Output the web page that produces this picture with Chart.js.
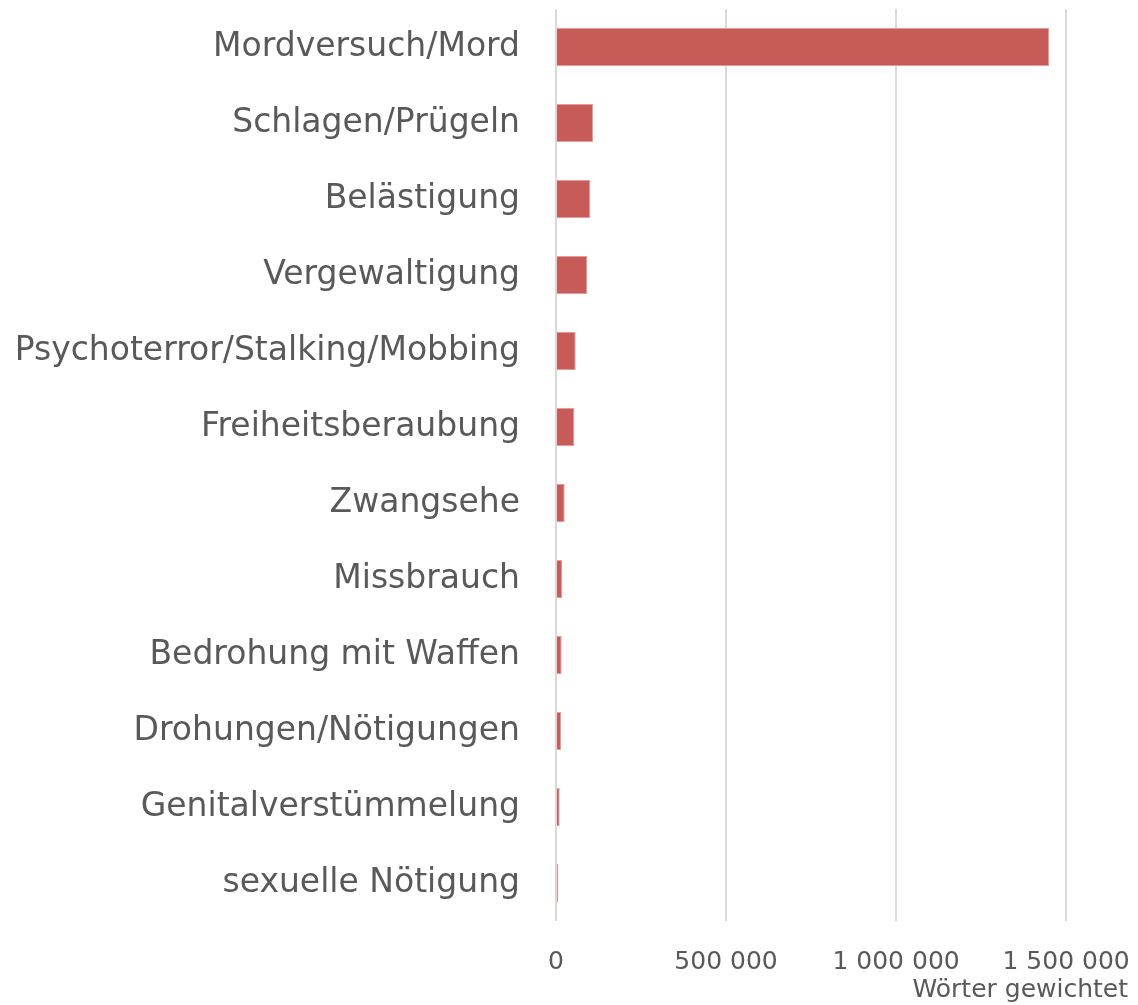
<!DOCTYPE html>
<html>
<head>
<meta charset="utf-8">
<script src="https://cdn.jsdelivr.net/npm/chart.js@4"></script>
<style>
  html, body { margin: 0; padding: 0; background: #fff; }
  #wrap { position: relative; width: 1138px; height: 1005px; }
</style>
</head>
<body>
<div id="wrap"><canvas id="c"></canvas></div>
<script>
const categories = [
  "Mordversuch/Mord",
  "Schlagen/Prügeln",
  "Belästigung",
  "Vergewaltigung",
  "Psychoterror/Stalking/Mobbing",
  "Freiheitsberaubung",
  "Zwangsehe",
  "Missbrauch",
  "Bedrohung mit Waffen",
  "Drohungen/Nötigungen",
  "Genitalverstümmelung",
  "sexuelle Nötigung"
];
const values = [1450000, 109000, 101000, 92000, 58000, 54000, 25600, 17600, 16700, 14700, 10900, 5900];
const xTicks = [0, 500000, 1000000, 1500000];
const axisMax = 1682000;
const axisTitle = "Wörter gewichtet";

const FONT = "'DejaVu Sans', sans-serif";
const TXT = "#595959";

new Chart(document.getElementById('c'), {
  type: 'bar',
  data: {
    labels: categories,
    datasets: [{
      data: values,
      backgroundColor: '#C65B58',
      borderColor: '#E39A98',
      borderWidth: 1,
      categoryPercentage: 1.0,
      barPercentage: 0.5
    }]
  },
  options: {
    indexAxis: 'y',
    responsive: true,
    maintainAspectRatio: false,
    animation: false,
    layout: { padding: { top: 9, right: 10, bottom: 0, left: 0 } },
    plugins: { legend: { display: false }, tooltip: { enabled: false } },
    scales: {
      x: {
        min: 0,
        max: axisMax,
        afterBuildTicks: (axis) => { axis.ticks = xTicks.map(v => ({ value: v })); },
        afterFit: (s) => { s.height = 84; s.paddingLeft = 0; s.paddingRight = 0; },
        grid: { color: '#D9D9D9', lineWidth: 2, drawTicks: false },
        border: { display: false },
        ticks: {
          color: TXT,
          font: { family: FONT, size: 25 },
          padding: 26,
          maxRotation: 0,
          autoSkip: false,
          callback: (v) => String(v).replace(/\B(?=(\d{3})+(?!\d))/g, ' ')
        },
        title: {
          display: true,
          text: axisTitle,
          align: 'end',
          color: TXT,
          font: { family: FONT, size: 25 },
          padding: { top: -4, bottom: 0 }
        }
      },
      y: {
        afterFit: (s) => { s.width = 556; s.paddingTop = 0; s.paddingBottom = 0; },
        grid: { display: false, drawTicks: false },
        border: { display: false },
        ticks: {
          color: TXT,
          font: { family: FONT, size: 33 },
          padding: 36,
          autoSkip: false
        }
      }
    }
  }
});
</script>
</body>
</html>
